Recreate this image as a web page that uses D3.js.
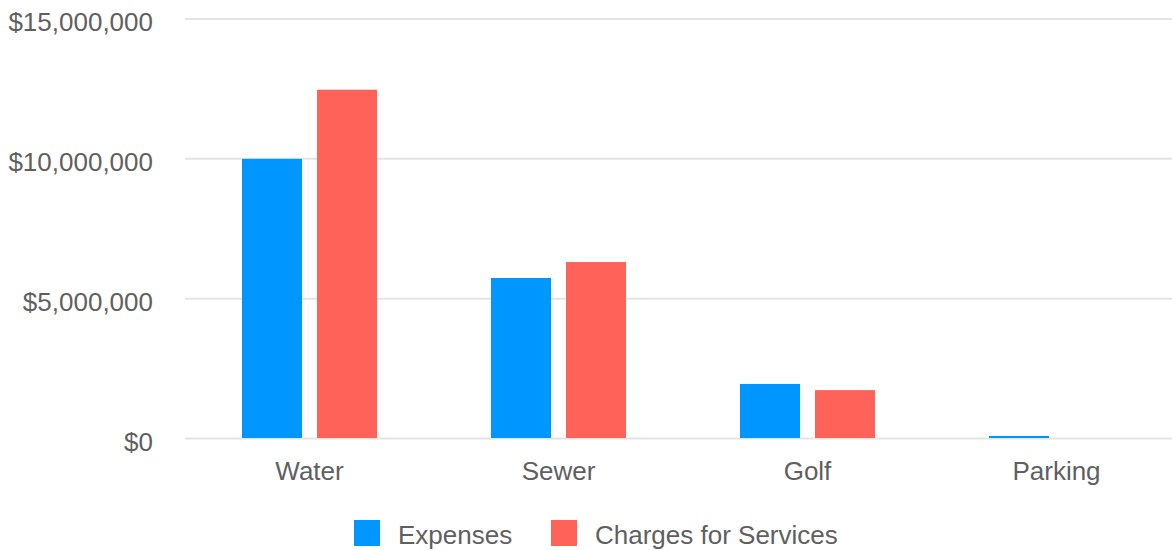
<!DOCTYPE html>
<html><head><meta charset="utf-8">
<script src="https://cdn.jsdelivr.net/npm/d3@7"></script>
<style>body{margin:0;background:#fff}svg{display:block}text{font-family:"Liberation Sans",Arial,sans-serif}</style>
</head><body>
<svg id="c" width="1172" height="550"></svg>
<script>
const categories = ["Water", "Sewer", "Golf", "Parking"];
const seriesNames = ["Expenses", "Charges for Services"];
const expenses = [10000000, 5740000, 1950000, 90000];
const charges = [12470000, 6310000, 1730000, 0];
const yTicks = [0, 5000000, 10000000, 15000000];
const colors = ["#0096ff", "#ff6258"];

(function () {
const svg = d3.select("#c");
const pl = 185, pr = 1181, pt = 19, pb = 438.5;
const x = d3.scaleBand().domain(categories).range([pl, pr]).paddingInner(0).paddingOuter(0);
const x1 = d3.scaleBand().domain(seriesNames).range([x.bandwidth()/2 - 67.5, x.bandwidth()/2 + 67.5]).paddingInner(0.2).paddingOuter(0);
const y = d3.scaleLinear().domain([0, 15000000]).range([pb, pt]);
const fmt = v => "$" + d3.format(",")(v);

// gridlines
svg.append("g").selectAll("line").data(yTicks).join("line")
  .attr("x1", pl).attr("x2", 1172)
  .attr("y1", d => y(d)).attr("y2", d => y(d))
  .attr("stroke", "#e4e4e4").attr("stroke-width", 2);

// y labels
const yAxis = d3.axisLeft(y).tickValues(yTicks).tickFormat(fmt).tickSize(0).tickPadding(0);
const ga = svg.append("g").attr("transform", `translate(153,0)`).call(yAxis);
ga.select(".domain").remove();
ga.selectAll("text").attr("font-size", 26).attr("fill", "#5f5f5f")
  .attr("font-family", '"Liberation Sans",Arial,sans-serif').attr("dy", "0.45em");

// bars
const data = categories.map((c, i) => ({c, vals: [expenses[i], charges[i]]}));
const groups = svg.append("g").selectAll("g").data(data).join("g")
  .attr("transform", d => `translate(${x(d.c)},0)`);
groups.selectAll("rect").data(d => d.vals.map((v, j) => ({s: seriesNames[j], v, j}))).join("rect")
  .attr("x", d => x1(d.s)).attr("width", x1.bandwidth())
  .attr("y", d => y(d.v)).attr("height", d => Math.max(0, pb - 0.5 - y(d.v)))
  .attr("fill", d => colors[d.j]);

// x labels
const xAxis = d3.axisBottom(x).tickSize(0).tickPadding(0);
const gx = svg.append("g").attr("transform", `translate(0,462)`).call(xAxis);
gx.select(".domain").remove();
gx.selectAll("text").attr("font-size", 26).attr("fill", "#5f5f5f")
  .attr("font-family", '"Liberation Sans",Arial,sans-serif').attr("dy", "0.71em");

// legend
const legX = [354, 551];
const lg = svg.append("g").selectAll("g").data(seriesNames).join("g")
  .attr("transform", (d, i) => `translate(${legX[i]},520)`);
lg.append("rect").attr("width", 26).attr("height", 26).attr("fill", (d, i) => colors[i]);
lg.append("text").attr("x", 44).attr("y", 24).attr("font-size", 26).attr("fill", "#5f5f5f").text(d => d);
})();
</script>
</body></html>
